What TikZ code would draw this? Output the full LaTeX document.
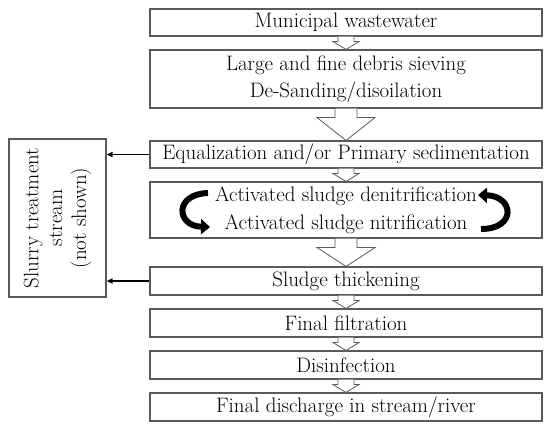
\documentclass[tikz,border=0pt]{standalone}
\usetikzlibrary{arrows.meta,calc}
\definecolor{boxgray}{RGB}{90,90,90}
\tikzset{
  x=1bp,y=-1bp,
  stepbox/.style={draw=boxgray,line width=1.1bp,fill=white,minimum width=392bp,inner sep=0pt,
     font=\fontsize{21}{27}\selectfont,align=center,text=black},
  harr/.style={draw=boxgray,line width=0.8bp,fill=white,line join=miter},
  sidearr/.style={line width=1.3bp,-{Triangle[length=6bp,width=5bp]}},
  curvearr/.style={line width=6bp,-{Triangle[length=9bp,width=15bp]}},
}
% #1 from node, #2 to node, #3 stem half width, #4 head half width, #5 stem length
\newcommand{\harrow}[5]{%
  \draw[harr] ([xshift=-#3 bp]#1.south) -- ++(0,#5) -- ++(#3-#4,0) -- (#2.north)
     -- ([xshift=#4 bp,yshift=-#5 bp]#1.south) -- ++(#3-#4,0) -- ([xshift=#3 bp]#1.south);}
\begin{document}
\begin{tikzpicture}
\useasboundingbox (0,0) rectangle (550,431);
\fill[white] (0,0) rectangle (550,431);
\node[stepbox,minimum height=27bp] (b1) at (346,22.5) {Municipal wastewater};
\node[stepbox,minimum height=58bp] (b2) at (346,79) {Large and fine debris sieving\\De-Sanding/disoilation};
\node[stepbox,minimum height=27bp] (b3) at (346,154.5) {Equalization and/or Primary sedimentation};
\node[stepbox,minimum height=56bp,font=\fontsize{21}{28}\selectfont] (b4) at (346,210) {Activated sludge denitrification\\Activated sludge nitrification};
\node[stepbox,minimum height=28bp] (b5) at (346,281) {Sludge thickening};
\node[stepbox,minimum height=28bp] (b6) at (346,323) {Final filtration};
\node[stepbox,minimum height=28bp] (b7) at (346,365) {Disinfection};
\node[stepbox,minimum height=28bp] (b8) at (346,407) {Final discharge in stream/river};
\node[draw=boxgray,line width=1.1bp,minimum width=97bp,minimum height=158bp,inner sep=0pt] (sl) at (57.5,218) {};
\node[rotate=90,align=center,font=\fontsize{21}{24}\selectfont] (slt) at (sl.center) {Slurry treatment\\stream\\(not shown)};
% hollow arrows
\harrow{b1}{b2}{8}{13}{5}
\harrow{b2}{b3}{11}{29}{9}
\harrow{b3}{b4}{8}{13}{5}
\harrow{b4}{b5}{11}{29}{9}
\harrow{b5}{b6}{8}{13}{5}
\harrow{b6}{b7}{8}{13}{5}
\harrow{b7}{b8}{8}{13}{5}
% side arrows
\draw[sidearr] (b3.west) -- (b3.west -| sl.east);
\draw[sidearr] (b5.west) -- (b5.west -| sl.east);
% curved arrows
\coordinate (la) at (208,193);
\coordinate (lb) at (210,227);
\coordinate (ra) at (481,229);
\coordinate (rb) at (478,195);
\draw[curvearr] (la) .. controls (174,194) and (176,226) .. (lb);
\draw[curvearr] (ra) .. controls (517,229) and (514,196) .. (rb);
\end{tikzpicture}
\end{document}
